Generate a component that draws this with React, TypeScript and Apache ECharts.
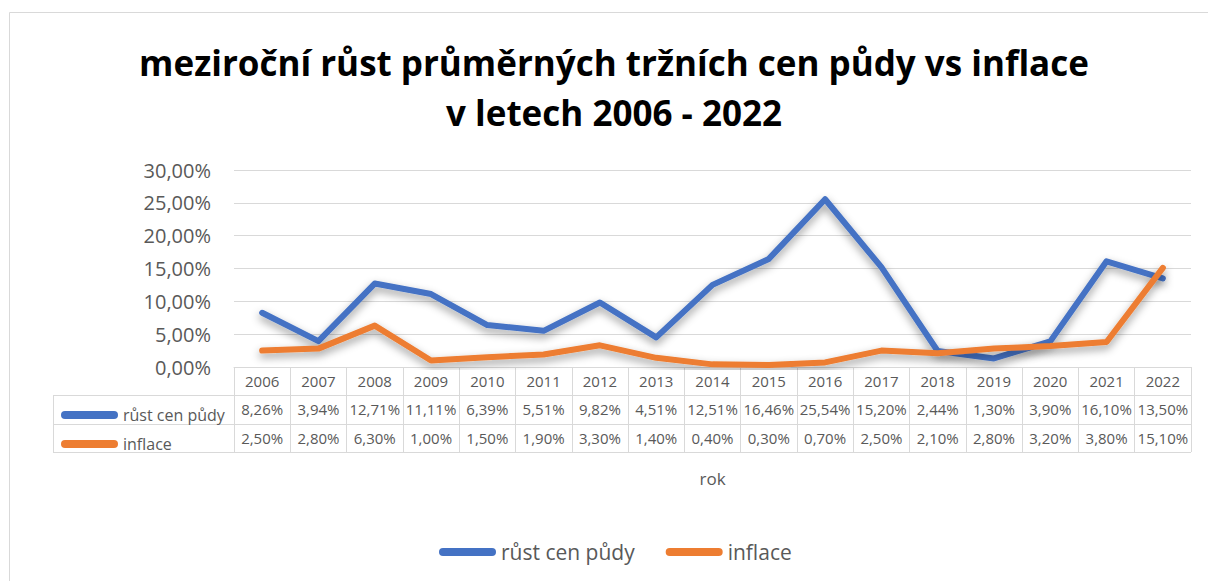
import React, { useEffect, useRef } from "react";
import * as echarts from "echarts";

const years = ["2006","2007","2008","2009","2010","2011","2012","2013","2014","2015","2016","2017","2018","2019","2020","2021","2022"];
const rustCenPudy = [8.26, 3.94, 12.71, 11.11, 6.39, 5.51, 9.82, 4.51, 12.51, 16.46, 25.54, 15.2, 2.44, 1.3, 3.9, 16.1, 13.5];
const inflace = [2.5, 2.8, 6.3, 1.0, 1.5, 1.9, 3.3, 1.4, 0.4, 0.3, 0.7, 2.5, 2.1, 2.8, 3.2, 3.8, 15.1];
const seriesNames = ["růst cen půdy", "inflace"];
const titleLines = ["meziroční růst průměrných tržních cen půdy vs inflace", "v letech 2006 - 2022"];
const axisName = "rok";

const BLUE = "#4472C4";
const ORANGE = "#ED7D31";
const GRID = "#d9d9d9";
const TXT = "#595959";
const FONT = "'Open Sans', 'Noto Sans', sans-serif";
const pct = (v: number) => v.toFixed(2).replace(".", ",") + "%";
const capsule = "path://M4,0L53,0A4,4,0,0,1,53,8L4,8A4,4,0,0,1,4,0Z";

export default function App() {
  const ref = useRef<HTMLDivElement>(null);
  useEffect(() => {
    if (!ref.current) return;
    const chart = echarts.init(ref.current, null, { renderer: "svg" });
    const gridL = 234, gridR = 1191, gridB = 367, tableL = 53;
    const rowLines = [395, 424, 452];
    const graphics: any[] = [
      { type: "rect", shape: { x: 9.5, y: 12.5, width: 1210, height: 600 }, style: { fill: "none", stroke: GRID, lineWidth: 1 }, silent: true },
      {
        type: "text", x: 614, y: 62,
        style: { text: titleLines[0], font: `bold 35px ${FONT}`, fill: "#000", align: "center", verticalAlign: "middle" },
      },
      {
        type: "text", x: 614, y: 112,
        style: { text: titleLines[1], font: `bold 35px ${FONT}`, fill: "#000", align: "center", verticalAlign: "middle" },
      },
      ...rowLines.map((y) => ({
        type: "line", shape: { x1: tableL, y1: y + 0.5, x2: gridR, y2: y + 0.5 }, style: { stroke: GRID, lineWidth: 1 }, silent: true,
      })),
      { type: "line", shape: { x1: tableL + 0.5, y1: rowLines[0], x2: tableL + 0.5, y2: rowLines[2] }, style: { stroke: GRID, lineWidth: 1 }, silent: true },
    ];
    const labelAxis = (offset: number, vals: number[]) => ({
      type: "category",
      data: years,
      position: "bottom",
      offset,
      boundaryGap: true,
      axisLine: { show: false },
      axisTick: { show: false },
      splitLine: { show: false },
      axisLabel: {
        interval: 0, margin: 6, color: TXT, fontFamily: FONT, fontSize: 15,
        formatter: (_v: string, i: number) => pct(vals[i]),
      },
    });
    const shadow = { shadowColor: "rgba(0,0,0,0.4)", shadowBlur: 8, shadowOffsetY: 4 };
    chart.setOption({
      animation: false,
      backgroundColor: "#fff",
      grid: { left: gridL, right: 1208 - gridR, top: 170, bottom: 581 - gridB, containLabel: false },
      graphic: graphics,
      legend: [
        {
          data: seriesNames, left: 434, top: 534, itemWidth: 57, itemHeight: 8, itemGap: 31, icon: capsule,
          textStyle: { color: TXT, fontFamily: FONT, fontSize: 21, lineHeight: 26 },
        },
        {
          data: seriesNames, orient: "vertical", left: 56, top: 398, itemWidth: 57, itemHeight: 8, itemGap: 5, icon: capsule,
          textStyle: { color: TXT, fontFamily: FONT, fontSize: 16, lineHeight: 24 },
        },
      ],
      xAxis: [
        {
          type: "category",
          data: years,
          boundaryGap: true,
          name: axisName,
          nameLocation: "middle",
          nameGap: 103,
          nameTextStyle: { color: TXT, fontFamily: FONT, fontSize: 17 },
          axisLine: { show: true, lineStyle: { color: GRID, width: 1 } },
          axisTick: { show: true, alignWithLabel: false, interval: 0, length: 85, lineStyle: { color: GRID, width: 1 } },
          axisLabel: { interval: 0, margin: 6, color: TXT, fontFamily: FONT, fontSize: 15 },
          splitLine: { show: false },
        },
        labelAxis(28.5, rustCenPudy),
        labelAxis(57, inflace),
      ],
      yAxis: {
        type: "value", min: 0, max: 30, interval: 5,
        axisLine: { show: false }, axisTick: { show: false },
        axisLabel: { margin: 23, color: TXT, fontFamily: FONT, fontSize: 20, formatter: (v: number) => pct(v) },
        splitLine: { lineStyle: { color: GRID, width: 1 } },
      },
      series: [
        {
          name: seriesNames[0], type: "line", data: rustCenPudy, xAxisIndex: 0, symbol: "none", color: BLUE,
          lineStyle: { width: 6, color: BLUE, cap: "round", join: "round", ...shadow },
        },
        {
          name: seriesNames[1], type: "line", data: inflace, xAxisIndex: 0, symbol: "none", color: ORANGE,
          lineStyle: { width: 6, color: ORANGE, cap: "round", join: "round", ...shadow },
        },
      ],
    });
    return () => chart.dispose();
  }, []);
  return <div ref={ref} style={{ position: "fixed", left: 0, top: 0, width: 1208, height: 581 }} />;
}
